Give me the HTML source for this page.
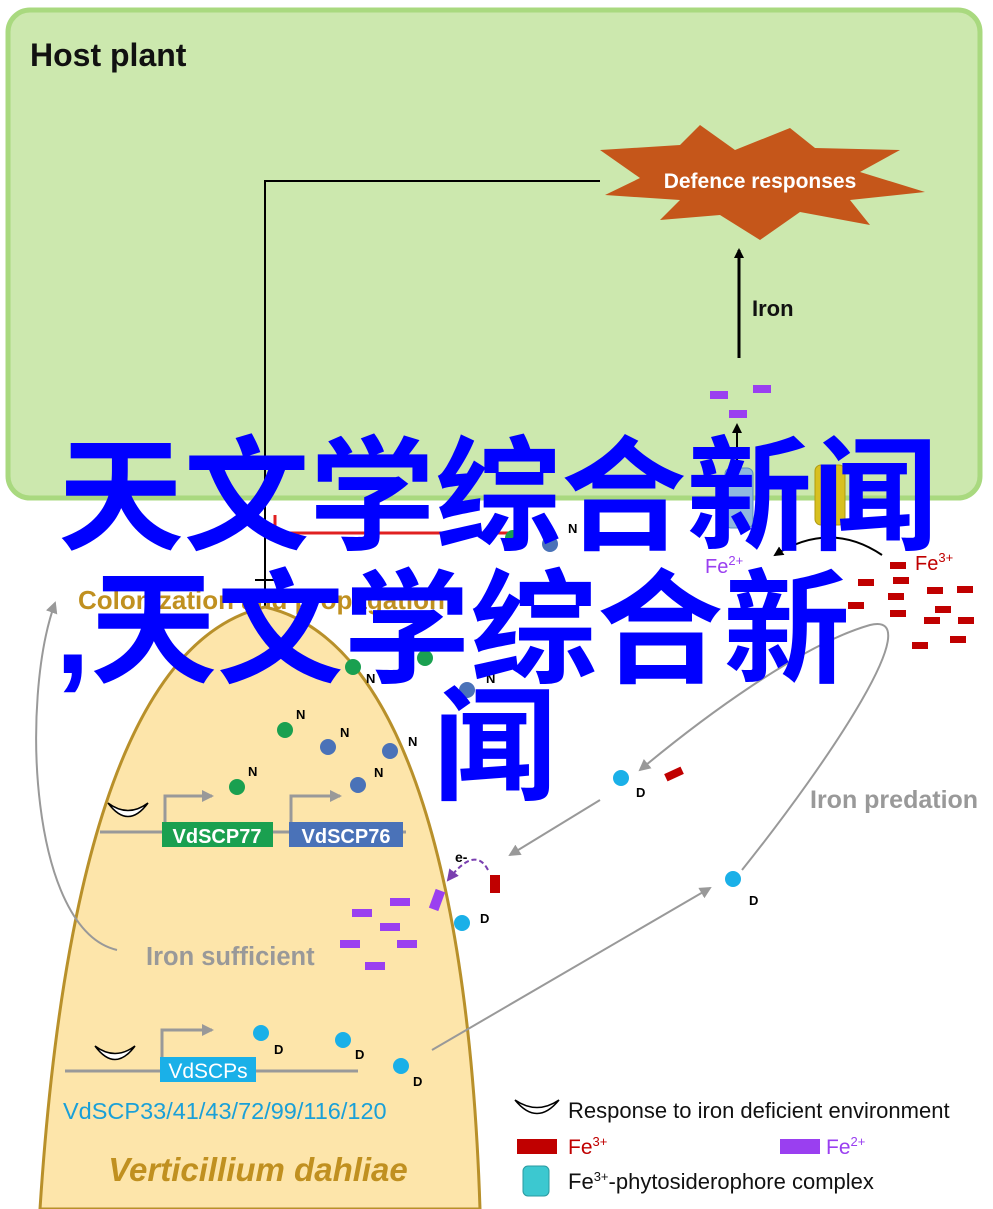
<!DOCTYPE html>
<html><head><meta charset="utf-8"><style>
html,body{margin:0;padding:0;background:#fff;width:993px;height:1209px;overflow:hidden}
svg{display:block}
.t{font-family:"Liberation Sans",Arial,sans-serif;font-weight:bold}
.big{font-family:"Liberation Sans","Noto Sans CJK SC",sans-serif;font-weight:bold;fill:#0000ff;font-size:124px}
</style></head><body>
<svg width="993" height="1209" viewBox="0 0 993 1209" xmlns="http://www.w3.org/2000/svg">
<defs>
<marker id="ab" markerWidth="10" markerHeight="10" refX="8" refY="5" orient="auto" markerUnits="userSpaceOnUse"><path d="M0,0 L10,5 L0,10 z" fill="#000"/></marker>
<marker id="ag" markerWidth="12" markerHeight="12" refX="10" refY="6" orient="auto" markerUnits="userSpaceOnUse"><path d="M0,0 L12,6 L0,12 z" fill="#999"/></marker>
<marker id="ap" markerWidth="12" markerHeight="12" refX="10" refY="6" orient="auto" markerUnits="userSpaceOnUse"><path d="M0,0 L12,6 L0,12 z" fill="#7a3fb0"/></marker>
</defs>
<rect x="8" y="10" width="972" height="488" rx="22" fill="#cce8ae" stroke="#a9d97f" stroke-width="5"/>
<text x="30" y="66" class="t" font-size="32" fill="#111">Host plant</text>
<polygon points="600,150 680,145 700,125 735,150 790,128 815,148 900,150 860,172 925,192 850,200 870,225 800,212 760,240 720,215 660,220 680,200 605,195 640,178" fill="#c5561a"/>
<text x="760" y="188" text-anchor="middle" class="t" font-size="21" fill="#fff">Defence responses</text>
<polyline points="265,610 265,181 600,181" fill="none" stroke="#000" stroke-width="2"/>
<line x1="739" y1="358" x2="739" y2="250" stroke="#000" stroke-width="3" marker-end="url(#ab)"/>
<text x="752" y="316" class="t" font-size="22" fill="#111" font-weight="normal">Iron</text>
<g fill="#9a3ff0"><rect x="710" y="391" width="18" height="8"/><rect x="753" y="385" width="18" height="8"/><rect x="729" y="410" width="18" height="8"/></g>
<line x1="737" y1="460" x2="737" y2="425" stroke="#000" stroke-width="2" marker-end="url(#ab)"/>
<rect x="725" y="468" width="28" height="60" rx="6" fill="#8fb8e0" stroke="#5a8dc0"/>
<rect x="815" y="465" width="30" height="60" rx="6" fill="#d8c020" stroke="#b09a10"/>
<path d="M40,1209 C60,900 120,640 265,607 C410,640 470,900 480,1209 Z" fill="#fde5aa" stroke="#b8902a" stroke-width="3"/>
<polyline points="275,515 275,533 510,533" fill="none" stroke="#e02020" stroke-width="3"/>
<line x1="255" y1="580" x2="290" y2="580" stroke="#000" stroke-width="2"/>
<text x="78" y="609" class="t" font-size="26" fill="#c09020">Colonization and propagation</text>
<path d="M117,950 C30,930 20,700 55,603" fill="none" stroke="#999" stroke-width="2" marker-end="url(#ag)"/>
<text x="146" y="965" class="t" font-size="25.5" fill="#999">Iron sufficient</text>
<line x1="100" y1="832" x2="406" y2="832" stroke="#999" stroke-width="3"/>
<path d="M108,803 Q128,830 148,803 Q128,818 108,803 Z" fill="#fff" stroke="#000" stroke-width="1.5"/>
<polyline points="165,822 165,796 212,796" fill="none" stroke="#999" stroke-width="3" marker-end="url(#ag)"/>
<polyline points="291,822 291,796 340,796" fill="none" stroke="#999" stroke-width="3" marker-end="url(#ag)"/>
<rect x="162" y="822" width="111" height="25" fill="#1aa050"/><text x="217" y="843" text-anchor="middle" class="t" font-size="20" fill="#fff">VdSCP77</text>
<rect x="289" y="822" width="114" height="25" fill="#4a72b8"/><text x="346" y="843" text-anchor="middle" class="t" font-size="20" fill="#fff">VdSCP76</text>
<line x1="65" y1="1071" x2="358" y2="1071" stroke="#999" stroke-width="3"/>
<path d="M95,1046 Q115,1073 135,1046 Q115,1061 95,1046 Z" fill="#fff" stroke="#000" stroke-width="1.5"/>
<polyline points="162,1058 162,1030 212,1030" fill="none" stroke="#999" stroke-width="3" marker-end="url(#ag)"/>
<rect x="160" y="1057" width="96" height="25" fill="#1ab0e8"/><text x="208" y="1078" text-anchor="middle" font-family="Liberation Sans,sans-serif" font-size="21" fill="#fff">VdSCPs</text>
<text x="63" y="1119" font-family="Liberation Sans,sans-serif" font-size="23.5" fill="#1aa0d8">VdSCP33/41/43/72/99/116/120</text>
<text x="258" y="1181" text-anchor="middle" class="t" font-size="33" font-style="italic" fill="#c09020">Verticillium dahliae</text>
<g font-family="Liberation Sans,sans-serif" font-weight="bold" font-size="13" fill="#000">
<circle cx="237" cy="787" r="8" fill="#1aa050"/><text x="248" y="776">N</text>
<circle cx="285" cy="730" r="8" fill="#1aa050"/><text x="296" y="719">N</text>
<circle cx="328" cy="747" r="8" fill="#4a72b8"/><text x="340" y="737">N</text>
<circle cx="358" cy="785" r="8" fill="#4a72b8"/><text x="374" y="777">N</text>
<circle cx="390" cy="751" r="8" fill="#4a72b8"/><text x="408" y="746">N</text>
<circle cx="353" cy="667" r="8" fill="#1aa050"/><text x="366" y="683">N</text>
<circle cx="425" cy="658" r="8" fill="#1aa050"/>
<circle cx="467" cy="690" r="8" fill="#4a72b8"/><text x="486" y="683">N</text>
<circle cx="513" cy="538" r="8" fill="#1aa050"/>
<circle cx="550" cy="544" r="8" fill="#4a72b8"/><text x="568" y="533">N</text>
</g>
<g font-family="Liberation Sans,sans-serif" font-weight="bold" font-size="13">
<circle cx="261" cy="1033" r="8" fill="#1ab0e8"/><text x="274" y="1054">D</text>
<circle cx="343" cy="1040" r="8" fill="#1ab0e8"/><text x="355" y="1059">D</text>
<circle cx="401" cy="1066" r="8" fill="#1ab0e8"/><text x="413" y="1086">D</text>
<circle cx="621" cy="778" r="8" fill="#1ab0e8"/><text x="636" y="797">D</text>
<circle cx="733" cy="879" r="8" fill="#1ab0e8"/><text x="749" y="905">D</text>
<circle cx="462" cy="923" r="8" fill="#1ab0e8"/><text x="480" y="923">D</text>
</g>
<rect x="665" y="770" width="18" height="8" fill="#c00000" transform="rotate(-25 674 774)"/>
<rect x="490" y="875" width="10" height="18" fill="#c00000"/>
<rect x="432" y="890" width="10" height="20" fill="#9a3ff0" transform="rotate(20 437 900)"/>
<path d="M488,870 Q475,845 448,880" fill="none" stroke="#7a3fb0" stroke-width="2" stroke-dasharray="5,3" marker-end="url(#ap)"/>
<text x="455" y="862" class="t" font-size="14" fill="#000">e-</text>
<g fill="#9a3ff0"><rect x="352" y="909" width="20" height="8"/><rect x="390" y="898" width="20" height="8"/><rect x="380" y="923" width="20" height="8"/><rect x="340" y="940" width="20" height="8"/><rect x="397" y="940" width="20" height="8"/><rect x="365" y="962" width="20" height="8"/></g>
<text x="705" y="573" font-family="Liberation Sans,sans-serif" font-size="20" fill="#9a3ff0">Fe<tspan font-size="13" dy="-8">2+</tspan></text>
<text x="915" y="570" font-family="Liberation Sans,sans-serif" font-size="20" fill="#c00000">Fe<tspan font-size="13" dy="-8">3+</tspan></text>
<path d="M882,555 Q830,520 775,555" fill="none" stroke="#000" stroke-width="2" marker-end="url(#ab)"/>
<g fill="#c00000"><rect x="890" y="562" width="16" height="7"/><rect x="858" y="579" width="16" height="7"/><rect x="893" y="577" width="16" height="7"/><rect x="927" y="587" width="16" height="7"/><rect x="957" y="586" width="16" height="7"/><rect x="848" y="602" width="16" height="7"/><rect x="888" y="593" width="16" height="7"/><rect x="890" y="610" width="16" height="7"/><rect x="935" y="606" width="16" height="7"/><rect x="958" y="617" width="16" height="7"/><rect x="924" y="617" width="16" height="7"/><rect x="950" y="636" width="16" height="7"/><rect x="912" y="642" width="16" height="7"/></g>
<path d="M742,870 C830,760 930,610 870,625 C800,645 700,720 640,770" fill="none" stroke="#999" stroke-width="2" marker-end="url(#ag)"/>
<line x1="600" y1="800" x2="510" y2="855" stroke="#999" stroke-width="2" marker-end="url(#ag)"/>
<line x1="432" y1="1050" x2="710" y2="888" stroke="#999" stroke-width="2" marker-end="url(#ag)"/>
<text x="810" y="808" class="t" font-size="25" fill="#999">Iron predation</text>
<path d="M515,1100 Q537,1127 559,1100 Q537,1115 515,1100 Z" fill="#fff" stroke="#000" stroke-width="1.5"/>
<text x="568" y="1118" font-family="Liberation Sans,sans-serif" font-size="22" fill="#111">Response to iron deficient environment</text>
<rect x="517" y="1139" width="40" height="15" fill="#c00000"/>
<text x="568" y="1154" font-family="Liberation Sans,sans-serif" font-size="21" fill="#c00000">Fe<tspan font-size="13" dy="-8">3+</tspan></text>
<rect x="780" y="1139" width="40" height="15" fill="#9a3ff0"/>
<text x="826" y="1154" font-family="Liberation Sans,sans-serif" font-size="21" fill="#9a3ff0">Fe<tspan font-size="13" dy="-8">2+</tspan></text>
<rect x="523" y="1166" width="26" height="30" rx="5" fill="#3cc8d0" stroke="#2a9aa0"/>
<text x="568" y="1189" font-family="Liberation Sans,sans-serif" font-size="22" fill="#111">Fe<tspan font-size="13" dy="-8">3+</tspan><tspan dy="8">-phytosiderophore complex</tspan></text>
<text x="58" y="540" class="big" textLength="880" lengthAdjust="spacingAndGlyphs">天文学综合新闻</text>
<text x="55" y="673" class="big" textLength="795" lengthAdjust="spacingAndGlyphs">,天文学综合新</text>
<text x="433" y="790" class="big">闻</text>
</svg>
</body></html>
